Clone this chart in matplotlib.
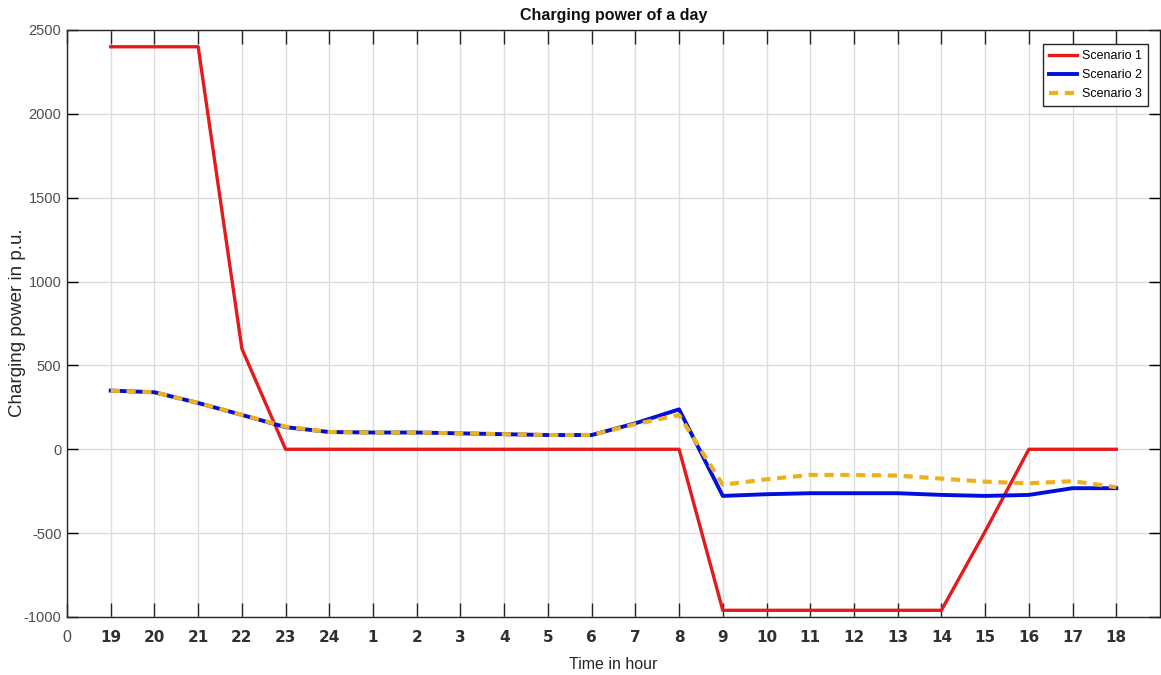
import matplotlib
matplotlib.use("Agg")
import matplotlib.pyplot as plt
from matplotlib import font_manager

# Hour labels, starting in the evening and wrapping around the day
hours = ["19", "20", "21", "22", "23", "24", "1", "2", "3", "4", "5", "6",
         "7", "8", "9", "10", "11", "12", "13", "14", "15", "16", "17", "18"]

# Charging power (p.u.) for each scenario
scenario1 = [2400, 2400, 2400, 600, 0, 0, 0, 0, 0, 0, 0, 0,
             0, 0, -960, -960, -960, -960, -960, -960, -490, 0, 0, 0]
scenario2 = [350, 340, 276, 205, 132, 103, 100, 100, 95, 90, 85, 85,
             155, 238, -278, -268, -262, -262, -262, -272, -278, -272, -232, -232]
scenario3 = [350, 340, 276, 205, 135, 103, 100, 100, 95, 90, 85, 85,
             150, 204, -212, -179, -153, -153, -157, -175, -193, -203, -190, -226]

yticks = [-1000, -500, 0, 500, 1000, 1500, 2000, 2500]

available = {f.name for f in font_manager.fontManager.ttflist}
narrow = "Liberation Sans Narrow" if "Liberation Sans Narrow" in available else "Liberation Sans"
plt.rcParams["font.family"] = ["Liberation Sans", "DejaVu Sans"]

W, H = 1161, 675
fig = plt.figure(figsize=(W / 100, H / 100), dpi=100)
ax = fig.add_axes([67 / W, (H - 617) / H, (1160 - 67) / W, (617 - 30) / H])

x = list(range(1, len(hours) + 1))
ax.plot(x, scenario1, color="#e41a1c", lw=2.4, label="Scenario 1", zorder=3)
ax.plot(x, scenario2, color="#0010d8", lw=2.8, label="Scenario 2", zorder=4)
ax.plot(x, scenario3, color="#EDB120", lw=3.0, ls=(0, (2.2, 1.6)),
        label="Scenario 3", zorder=5)

ax.set_xlim(0, 25)
ax.set_ylim(-1000, 2500)
ax.set_xticks([0] + x)
ax.set_xticklabels(["0"] + hours)
ax.set_yticks(yticks)
ax.set_yticklabels([str(v) for v in yticks])

ax.grid(True, color="#dcdcdc", lw=1.0)
ax.set_axisbelow(True)

ax.tick_params(axis="x", direction="in", length=10, width=1.0, top=True,
               bottom=True, pad=9, colors="#262626")
ax.tick_params(axis="y", direction="in", length=8, width=1.0, left=True,
               right=True, pad=4, labelcolor="#4d4d4d", labelsize=10.5)
for lbl in ax.get_xticklabels():
    lbl.set_fontfamily("DejaVu Sans")
    lbl.set_fontsize(11)
    lbl.set_fontweight("bold")
    lbl.set_color("#303030")
xl0 = ax.get_xticklabels()[0]
xl0.set_fontweight("normal")
xl0.set_fontfamily(narrow)
xl0.set_fontsize(11.5)
xl0.set_color("#4d4d4d")
for lbl in ax.get_yticklabels():
    lbl.set_fontfamily(narrow)

for s in ax.spines.values():
    s.set_color("#262626")
    s.set_linewidth(1.0)

ax.set_xlabel("Time in hour", fontsize=11.5, color="#262626", family=narrow,
              labelpad=9)
ax.set_ylabel("Charging power in p.u.", fontsize=13.5, color="#262626")
ax.yaxis.set_label_coords(18 / W, 1 - 323 / H, transform=fig.transFigure)
ax.yaxis.label.set_verticalalignment("center")
ax.set_title("Charging power of a day", fontsize=11.5, fontweight="bold",
             family=narrow, color="#111111", pad=7)

leg = ax.legend(loc="upper right", bbox_to_anchor=(1148 / W, 1 - 44 / H),
                bbox_transform=fig.transFigure, fancybox=False,
                edgecolor="#262626", framealpha=1.0, handlelength=2.2,
                borderaxespad=0, borderpad=0.5, labelspacing=0.55,
                handletextpad=0.4, prop={"family": narrow, "size": 9})
leg.get_frame().set_linewidth(1.0)

fig.savefig("out.png", dpi=100)
